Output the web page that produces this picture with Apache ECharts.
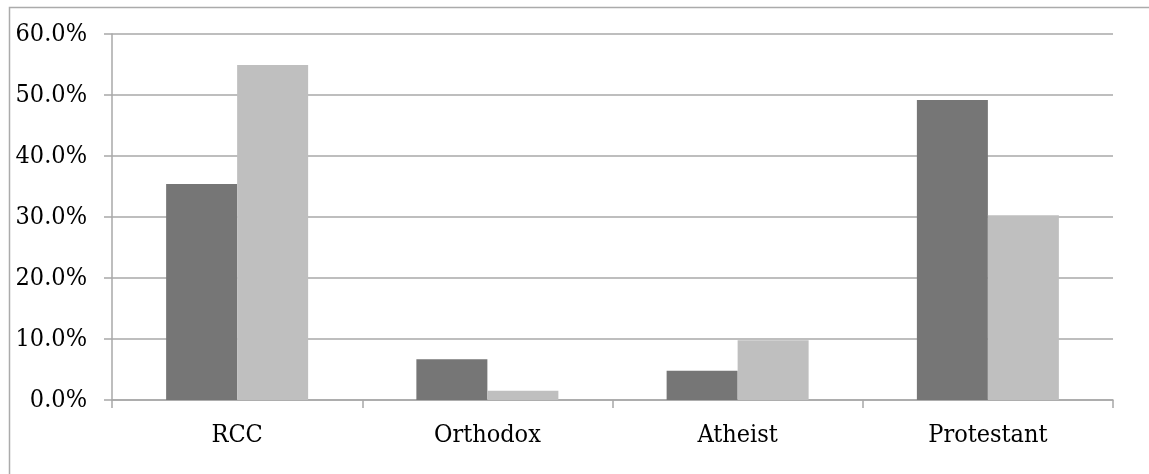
<!DOCTYPE html>
<html>
<head>
<meta charset="utf-8">
<script src="https://cdn.jsdelivr.net/npm/echarts@6/dist/echarts.min.js"></script>
<style>html,body{margin:0;padding:0;background:#fff;}#c{width:1149px;height:474px;}</style>
</head>
<body>
<div id="c"></div>
<script>
const categories = ["RCC", "Orthodox", "Atheist", "Protestant"];
const seriesA = [35.4, 6.7, 4.8, 49.2];
const seriesB = [54.9, 1.5, 9.8, 30.3];
const yTicks = [0, 10, 20, 30, 40, 50, 60];

const chart = echarts.init(document.getElementById('c'), null, {renderer: 'canvas'});
const gridColor = '#a8a8a8';
const font = '"DejaVu Serif Condensed", "DejaVu Serif", serif';
chart.setOption({
  animation: false,
  backgroundColor: '#fff',
  graphic: [{
    type: 'rect',
    shape: {x: 9.5, y: 7.5, width: 1300, height: 700},
    style: {fill: 'none', stroke: '#ababab', lineWidth: 1.5},
    silent: true
  }],
  grid: {left: 112, right: 36, top: 34, bottom: 74, containLabel: false},
  xAxis: {
    type: 'category',
    data: categories,
    axisLine: {show: true, lineStyle: {color: gridColor, width: 1.5}},
    axisTick: {show: true, length: 8, lineStyle: {color: gridColor, width: 1.5}},
    axisLabel: {color: '#000', fontFamily: font, fontSize: 25, margin: 23}
  },
  yAxis: {
    type: 'value',
    min: yTicks[0],
    max: yTicks[yTicks.length - 1],
    interval: 10,
    axisLine: {show: true, lineStyle: {color: gridColor, width: 1.5}},
    axisTick: {show: true, length: 8, lineStyle: {color: gridColor, width: 1.5}},
    splitLine: {show: true, lineStyle: {color: gridColor, width: 1.5}},
    axisLabel: {color: '#000', fontFamily: font, fontSize: 25, margin: 25,
      formatter: v => v.toFixed(1) + '%'}
  },
  series: [
    {type: 'bar', data: seriesA, barWidth: 71, barGap: '0%', itemStyle: {color: '#767676'}},
    {type: 'bar', data: seriesB, barWidth: 71, barGap: '0%', itemStyle: {color: '#bfbfbf'}}
  ]
});
</script>
</body>
</html>
